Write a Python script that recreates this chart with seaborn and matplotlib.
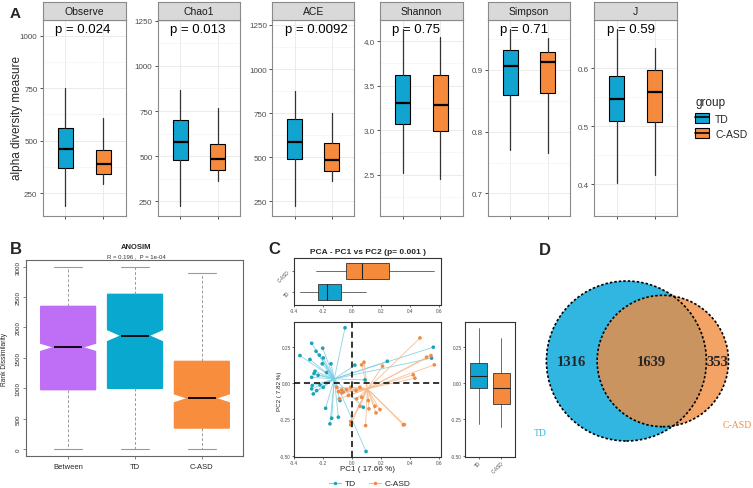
import numpy as np
import pandas as pd
import matplotlib
matplotlib.use("Agg")
import matplotlib.pyplot as plt
import matplotlib.transforms as mtrans
from matplotlib.ticker import AutoMinorLocator
from matplotlib.patches import Circle, Patch
from matplotlib.lines import Line2D
from matplotlib.collections import LineCollection
import seaborn as sns

sns.set_theme(style="white")
plt.rcParams['font.family'] = ['Liberation Sans', 'DejaVu Sans']

# ---------------- data ----------------
groups = ['TD', 'C-ASD']
group_colors = ['#12A4D0', '#F58A3D']

# A: alpha diversity, five-number summaries (whisker low, q1, median, q3, whisker high)
alpha_metrics = ['Observe', 'Chao1', 'ACE', 'Shannon', 'Simpson', 'J']
alpha_p = ['p = 0.024', 'p = 0.013', 'p = 0.0092', 'p = 0.75', 'p = 0.71', 'p = 0.59']
td_alpha = [[187, 368, 459, 559, 752],
            [222, 480, 581, 702, 865],
            [222, 489, 585, 718, 878],
            [2.52, 3.07, 3.305, 3.62, 4.14],
            [0.771, 0.860, 0.906, 0.932, 0.966],
            [0.402, 0.510, 0.547, 0.587, 0.668]]
casd_alpha = [[293, 341, 390, 457, 607],
              [364, 425, 483, 570, 768],
              [366, 424, 485, 581, 750],
              [2.45, 2.99, 3.28, 3.62, 4.05],
              [0.766, 0.862, 0.912, 0.929, 0.951],
              [0.417, 0.508, 0.559, 0.598, 0.636]]
alpha_ylim = [(142, 1076), (171, 1255), (169, 1280), (2.04, 4.24), (0.664, 0.981), (0.346, 0.684)]
alpha_ticks = [[250, 500, 750, 1000], [250, 500, 750, 1000, 1250], [250, 500, 750, 1000, 1250],
               [2.5, 3.0, 3.5, 4.0], [0.7, 0.8, 0.9], [0.4, 0.5, 0.6]]

# B: ANOSIM rank dissimilarity
anosim_groups = ['Between', 'TD', 'C-ASD']
anosim_colors = ['#BF6FF5', '#08A8CF', '#F98D3E']
anosim_lo = [0, 0, 0]
anosim_q1 = [976, 998, 345]
anosim_med = [1673, 1865, 834]
anosim_q3 = [2347, 2545, 1442]
anosim_hi = [2990, 3000, 2890]
anosim_notch = [68, 99, 74]

# C: PCA scores
td_pc1 = [-0.048, -0.278, -0.202, -0.248, -0.225, -0.359, -0.198, -0.290, -0.145, -0.205, -0.255,
          -0.262, -0.175, -0.234, -0.278, -0.274, -0.221, -0.198, -0.244, -0.278, -0.267, -0.182,
          -0.083, -0.140, -0.094, -0.152, 0.078, 0.097, 0.244, 0.090, 0.561, 0.549, 0.020]
td_pc2 = [0.383, 0.276, 0.242, 0.221, 0.194, 0.191, 0.175, 0.164, 0.134, 0.134, 0.083,
          0.067, 0.074, 0.055, 0.041, -0.016, -0.012, -0.028, -0.051, -0.039, -0.074, -0.173,
          -0.120, -0.242, -0.235, -0.281, -0.166, -0.472, 0.152, 0.023, 0.249, 0.173, 0.125]
casd_pc1 = [0.469, 0.515, 0.545, 0.568, 0.423, 0.434, 0.361, 0.211, 0.083, 0.067, -0.071,
            -0.094, -0.060, -0.009, 0.067, 0.113, 0.117, 0.166, 0.193, 0.159, 0.055, 0.094,
            -0.009, -0.009, 0.354, -0.087, 0.032, -0.106, -0.071, -0.037, -0.025, 0.028, 0.055]
casd_pc2 = [0.313, 0.180, 0.191, 0.127, 0.058, 0.035, -0.286, 0.118, 0.145, 0.127, -0.046,
            -0.058, -0.062, -0.028, -0.097, -0.120, -0.177, -0.205, -0.182, -0.159, -0.159, -0.293,
            -0.265, -0.288, -0.288, -0.108, -0.108, -0.028, -0.067, -0.044, -0.085, -0.051, -0.028]
centroid_pc1 = [-0.122, 0.106]
centroid_pc2 = [0.030, -0.039]
pc1_box = [[-0.359, -0.232, -0.175, -0.078, 0.097], [-0.248, -0.044, 0.071, 0.253, 0.568]]
pc2_box = [[-0.285, -0.035, 0.049, 0.140, 0.385], [-0.300, -0.145, -0.035, 0.072, 0.310]]

# D: Venn counts
venn_only_td = 1316
venn_both = 1639
venn_only_casd = 353

# ---------------- figure ----------------
W, H = 753, 489
fig = plt.figure(figsize=(W / 100, H / 100), dpi=100)


def rect(x0, y0, x1, y1):
    return [x0 / W, 1 - y1 / H, (x1 - x0) / W, (y1 - y0) / H]


def five(v, **extra):
    d = dict(whislo=v[0], q1=v[1], med=v[2], q3=v[3], whishi=v[4], fliers=[])
    d.update(extra)
    return d


# ---------------- panel A ----------------
a_cols = [(42.7, 125.7), (157.7, 240), (272.3, 354.3), (380, 462.7), (487.7, 570), (594.3, 677.3)]
for i, name in enumerate(alpha_metrics):
    x0, x1 = a_cols[i]
    ax = fig.add_axes(rect(x0, 20.7, x1, 216.7))
    bp = ax.bxp([five(td_alpha[i]), five(casd_alpha[i])], positions=[1, 2], widths=0.4,
                patch_artist=True, showcaps=False,
                boxprops=dict(edgecolor='black', linewidth=0.8),
                whiskerprops=dict(color='#333333', linewidth=0.9),
                medianprops=dict(color='black', linewidth=1.6), zorder=3)
    for patch, c in zip(bp['boxes'], group_colors):
        patch.set_facecolor(c)
    ax.set_xlim(0.4, 2.6)
    ax.set_ylim(*alpha_ylim[i])
    ax.set_yticks(alpha_ticks[i])
    ax.yaxis.set_minor_locator(AutoMinorLocator(2))
    ax.set_xticks([1, 2])
    ax.set_xticklabels([])
    ax.set_facecolor('white')
    ax.grid(True, which='major', color='#EBEBEB', linewidth=0.7, zorder=0)
    ax.grid(True, which='minor', axis='y', color='#F2F2F2', linewidth=0.4, zorder=0)
    ax.set_axisbelow(True)
    ax.tick_params(axis='both', which='major', length=2.5, width=0.6, color='#333333',
                   labelsize=5.8, labelcolor='#4D4D4D', pad=1.3, left=True, bottom=True)
    ax.tick_params(axis='y', which='minor', length=0)
    for s in ax.spines.values():
        s.set_color('#8A8A8A')
        s.set_linewidth(0.8)
    tr = mtrans.blended_transform_factory(ax.transData, ax.transAxes)
    ax.text(0.73, 0.95, alpha_p[i], transform=tr, ha='left', va='center', fontsize=9.5,
            color='black', zorder=2)
    sax = fig.add_axes(rect(x0, 2.7, x1, 20.7))
    sax.set_facecolor('#D9D9D9')
    sax.set_xticks([])
    sax.set_yticks([])
    for s in sax.spines.values():
        s.set_color('#8A8A8A')
        s.set_linewidth(0.8)
    sax.text(0.5, 0.5, name, ha='center', va='center', fontsize=7.5, color='#1A1A1A',
             transform=sax.transAxes)

fig.text(10 / W, 1 - 14 / H, 'A', fontsize=11, fontweight='bold', ha='left', va='center')
fig.text(17.5 / W, 1 - 118 / H, 'alpha diversity measure', rotation=90, fontsize=8.5,
         ha='center', va='center')

leg_handles = [(Patch(facecolor=c, edgecolor='black', linewidth=0.8),
                Line2D([0], [0], color='black', linewidth=1.2)) for c in group_colors]
fig.legend(leg_handles, groups, title='group', loc='upper left',
           bbox_to_anchor=(686 / W, 1 - 88 / H), frameon=False, fontsize=7.5,
           title_fontsize=8.5, handlelength=1.3, handleheight=1.1, labelspacing=0.45,
           alignment='left', handletextpad=0.6)

# ---------------- panel B ----------------
axb = fig.add_axes(rect(26, 260.7, 243.3, 457.3))
stats_b = [dict(whislo=anosim_lo[k], q1=anosim_q1[k], med=anosim_med[k], q3=anosim_q3[k],
                whishi=anosim_hi[k], cilo=anosim_med[k] - anosim_notch[k],
                cihi=anosim_med[k] + anosim_notch[k], fliers=[]) for k in range(3)]
bpb = axb.bxp(stats_b, positions=[1, 2, 3], widths=0.82, shownotches=True, patch_artist=True,
              capwidths=0.41,
              whiskerprops=dict(color='#9A9A9A', linewidth=0.7, linestyle=(0, (3, 2))),
              capprops=dict(color='#9A9A9A', linewidth=0.8),
              medianprops=dict(color='black', linewidth=1.3))
for patch, c in zip(bpb['boxes'], anosim_colors):
    patch.set_facecolor(c)
    patch.set_edgecolor(c)
axb.set_xlim(0.37, 3.62)
axb.set_ylim(-120, 3115)
axb.set_yticks([0, 500, 1000, 1500, 2000, 2500, 3000])
axb.set_xticks([1, 2, 3])
axb.set_xticklabels(anosim_groups)
axb.set_facecolor('white')
axb.tick_params(axis='y', labelsize=4.5, labelrotation=90, length=2.5, width=0.5,
                color='#555555', left=True, pad=1.5)
axb.tick_params(axis='x', labelsize=5.5, length=2.5, width=0.5, color='#555555', bottom=True,
                pad=2)
for lab in axb.get_yticklabels():
    lab.set_va('center')
for s in axb.spines.values():
    s.set_color('#666666')
    s.set_linewidth(0.8)
fig.text(10 / W, 1 - 250 / H, 'B', fontsize=12, fontweight='bold', ha='left', va='center')
fig.text(136 / W, 1 - 247.5 / H, 'ANOSIM', fontsize=5.5, fontweight='bold', ha='center',
         va='center')
fig.text(136 / W, 1 - 256.5 / H, 'R = 0.196 ,  P = 1e-04', fontsize=4.3, ha='center',
         va='center', color='#333333')
fig.text(5 / W, 1 - 359 / H, 'Rank Dissimilarity', rotation=90, fontsize=4.8, ha='center',
         va='center')

# ---------------- panel C ----------------
pc_xlim = (-0.40, 0.612)
pc_ylim = (-0.51, 0.421)
pc_xticks = [-0.4, -0.2, 0.0, 0.2, 0.4, 0.6]
pc_yticks = [-0.5, -0.25, 0.0, 0.25]


def style_c(ax):
    ax.set_facecolor('white')
    for s in ax.spines.values():
        s.set_color('#333333')
        s.set_linewidth(0.8)
    ax.tick_params(axis='both', labelsize=3.4, labelcolor='#4D4D4D', length=1.5, width=0.5,
                   color='#333333', pad=0.8, left=True, bottom=True)


box_kw = dict(patch_artist=True, showcaps=False,
              boxprops=dict(edgecolor='#333333', linewidth=0.6),
              whiskerprops=dict(color='#333333', linewidth=0.5),
              medianprops=dict(color='#222222', linewidth=0.8))

axt = fig.add_axes(rect(294, 259, 440.7, 306))
bpt = axt.bxp([five(v) for v in pc1_box], positions=[0, 1], widths=0.72,
              orientation='horizontal', **box_kw)
for patch, c in zip(bpt['boxes'], group_colors):
    patch.set_facecolor(c)
axt.set_xlim(*pc_xlim)
axt.set_ylim(-0.6, 1.6)
axt.set_xticks(pc_xticks)
axt.set_xticklabels([f'{v:.1f}' for v in pc_xticks])
axt.set_yticks([0, 1])
axt.set_yticklabels(groups, rotation=45)
style_c(axt)

axm = fig.add_axes(rect(294, 323.3, 440.7, 458))
pca = pd.DataFrame({'PC1': td_pc1 + casd_pc1, 'PC2': td_pc2 + casd_pc2,
                    'group': ['TD'] * len(td_pc1) + ['C-ASD'] * len(casd_pc1)})
line_colors = ['#7CCFE3', '#F7B98A']
for g, gname in enumerate(groups):
    sub = pca[pca['group'] == gname]
    segs = [[(x, y), (centroid_pc1[g], centroid_pc2[g])] for x, y in zip(sub['PC1'], sub['PC2'])]
    axm.add_collection(LineCollection(segs, colors=line_colors[g], linewidths=0.6, alpha=0.9,
                                      zorder=2))
sns.scatterplot(data=pca, x='PC1', y='PC2', hue='group', palette=['#1BA3B8', '#F08A44'],
                s=7, linewidth=0, legend=False, ax=axm, zorder=3)
axm.axvline(0, color='black', linestyle=(0, (4, 2.5)), linewidth=1.1, zorder=4)
axm.axhline(0, color='black', linestyle=(0, (4, 2.5)), linewidth=1.1, zorder=4)
axm.set_xlim(*pc_xlim)
axm.set_ylim(*pc_ylim)
axm.set_xticks(pc_xticks)
axm.set_xticklabels([f'{v:.1f}' for v in pc_xticks])
axm.set_yticks(pc_yticks)
axm.set_yticklabels([f'{v:.2f}' for v in pc_yticks])
axm.set_xlabel('')
axm.set_ylabel('')
style_c(axm)

axr = fig.add_axes(rect(465, 323.3, 515, 458))
bpr = axr.bxp([five(v) for v in pc2_box], positions=[0, 1], widths=0.74, **box_kw)
for patch, c in zip(bpr['boxes'], group_colors):
    patch.set_facecolor(c)
axr.set_xlim(-0.6, 1.6)
axr.set_ylim(*pc_ylim)
axr.set_yticks(pc_yticks)
axr.set_yticklabels([f'{v:.2f}' for v in pc_yticks])
axr.set_xticks([0, 1])
axr.set_xticklabels(groups, rotation=45, ha='right', rotation_mode='anchor')
style_c(axr)

fig.text(268 / W, 1 - 250 / H, 'C', fontsize=12, fontweight='bold', ha='left', va='center')
fig.text(368 / W, 1 - 253 / H, 'PCA - PC1 vs PC2 (p= 0.001 )', fontsize=6, fontweight='bold',
         ha='center', va='center')
fig.text(368 / W, 1 - 470 / H, 'PC1 ( 17.66 %)', fontsize=5.8, ha='center', va='center')
fig.text(280 / W, 1 - 391 / H, 'PC2 ( 7.82 %)', fontsize=4.5, rotation=90, ha='center',
         va='center')
c_handles = [Line2D([0], [0], color=lc, marker='o', markersize=2.5, markerfacecolor=pc,
                    markeredgewidth=0, linewidth=0.8)
             for lc, pc in zip(line_colors, ['#1BA3B8', '#F08A44'])]
fig.legend(c_handles, groups, loc='center', bbox_to_anchor=(370 / W, 1 - 484.5 / H), ncol=2,
           frameon=False, fontsize=6, handlelength=1.4, columnspacing=1.5, handletextpad=0.5)

# ---------------- panel D ----------------
axd = fig.add_axes(rect(520, 240, 753, 489))
axd.set_xlim(-106.4, 126.6)
axd.set_ylim(-127, 122)
axd.set_aspect('equal')
axd.axis('off')

n_td = venn_only_td + venn_both
n_casd = venn_only_casd + venn_both
r1 = 80.0
r2 = r1 * np.sqrt(n_casd / n_td)
target = np.pi * r1 ** 2 * venn_both / n_td


def lens_area(d, ra, rb):
    a1 = ra ** 2 * np.arccos((d * d + ra * ra - rb * rb) / (2 * d * ra))
    a2 = rb ** 2 * np.arccos((d * d + rb * rb - ra * ra) / (2 * d * rb))
    a3 = 0.5 * np.sqrt((-d + ra + rb) * (d + ra - rb) * (d - ra + rb) * (d + ra + rb))
    return a1 + a2 - a3


lo_d, hi_d = abs(r1 - r2) + 1e-6, r1 + r2 - 1e-6
for _ in range(60):
    mid = 0.5 * (lo_d + hi_d)
    if lens_area(mid, r1, r2) > target:
        lo_d = mid
    else:
        hi_d = mid
dist = 0.5 * (lo_d + hi_d)

axd.add_patch(Circle((0, 0), r1, facecolor='#30B6E0', edgecolor='none', zorder=1))
axd.add_patch(Circle((dist, 0), r2, facecolor='#F28C40', alpha=0.8, edgecolor='none', zorder=2))
for cx, rr in [(0, r1), (dist, r2)]:
    axd.add_patch(Circle((cx, 0), rr, facecolor='none', edgecolor='black', linewidth=1.2,
                         linestyle=(0, (1.5, 1.2)), zorder=3))
serif = ['Liberation Serif', 'DejaVu Serif']
axd.text((-r1 + dist - r2) / 2, 0, str(venn_only_td), ha='center', va='center', fontsize=10.5,
         fontweight='bold', family=serif, zorder=4)
axd.text((dist - r2 + r1) / 2, 0, str(venn_both), ha='center', va='center', fontsize=10.5,
         fontweight='bold', family=serif, zorder=4)
axd.text((r1 + dist + r2) / 2, 0, str(venn_only_casd), ha='center', va='center', fontsize=10.5,
         fontweight='bold', family=serif, zorder=4)
axd.text(-r1 * 1.08, -r1 * 0.89, 'TD', ha='center', va='center', fontsize=7, family=serif,
         color='#30B6E0')
axd.text(dist + r2 * 1.13, -r2 * 0.97, 'C-ASD', ha='center', va='center', fontsize=7,
         family=serif, color='#F28C40')
fig.text(539 / W, 1 - 250.7 / H, 'D', fontsize=12, fontweight='bold', ha='left', va='center')

fig.savefig('out.png', dpi=100)
